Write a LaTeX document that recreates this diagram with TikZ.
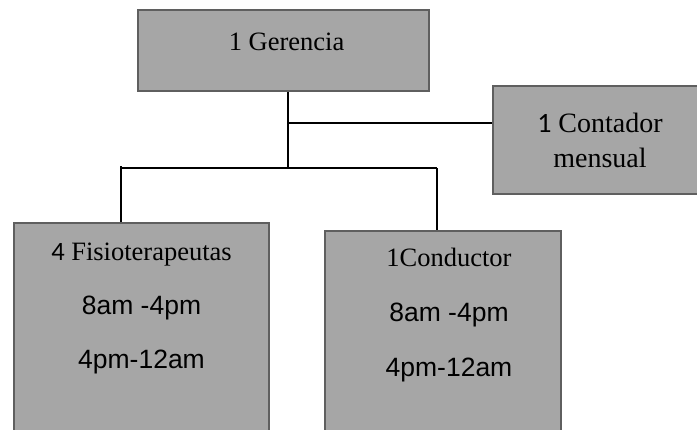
\documentclass[tikz,border=0pt]{standalone}
\usepackage{fontspec}
\setmainfont{Liberation Serif}
\setsansfont{Liberation Sans}
\newfontfamily\digitfont{Carlito}
\usetikzlibrary{positioning}
\definecolor{BoxFill}{HTML}{A6A6A6}
\definecolor{BoxLine}{HTML}{5F5F5F}

\begin{document}
\begin{tikzpicture}[x=1pt,y=-1pt,
  orgbox/.style={draw=BoxLine,line width=2pt,fill=BoxFill,inner sep=0pt,anchor=north west},
  boxtext/.style={align=center,font=\fontsize{26.5}{55}\selectfont},
  conn/.style={line width=1.1pt,color=black}]
  \useasboundingbox (0,0) rectangle (697,429);
  \clip (0,0) rectangle (697,429);
  % boxes
  \node[orgbox,minimum width=291pt,minimum height=81pt] (gerencia) at (137,9) {};
  \node[orgbox,minimum width=214pt,minimum height=108pt,align=center,
        font=\fontsize{28}{35}\selectfont] (contador) at (492,85) {{\digitfont 1} Contador\\mensual};
  \node[orgbox,minimum width=255pt,minimum height=230pt] (fisio) at (13,222) {};
  \node[orgbox,minimum width=236pt,minimum height=220pt] (conductor) at (324,230) {};
  % texts
  \node[boxtext] (gerencia-t) at ([xshift=3pt,yshift=-33pt]gerencia.north) {1 Gerencia};
  \node[boxtext,font=\fontsize{26.5}{54}\selectfont] (fisio-t) at ([yshift=-86pt]fisio.north) {{\digitfont 4} Fisioterapeutas\\
    \sffamily 8am -4pm\\ \sffamily 4pm-12am};
  \node[boxtext] (conductor-t) at ([xshift=6pt,yshift=-85pt]conductor.north) {1Conductor\\
    \sffamily 8am -4pm\\ \sffamily 4pm-12am};
  % connectors
  \coordinate (bus-l) at (121,168);
  \coordinate (bus-r) at (437,168);
  \coordinate (mid) at (288,168);
  \coordinate (tap) at (288,123);
  \draw[conn] (gerencia.south -| mid) -- (mid);
  \draw[conn] (tap) -- (tap -| contador.west);
  \draw[conn] (bus-l) -- (bus-r);
  \draw[conn] ([yshift=2pt]bus-l) -- (bus-l |- fisio.north);
  \draw[conn] (bus-r) -- (bus-r |- conductor.north);
\end{tikzpicture}
\end{document}
